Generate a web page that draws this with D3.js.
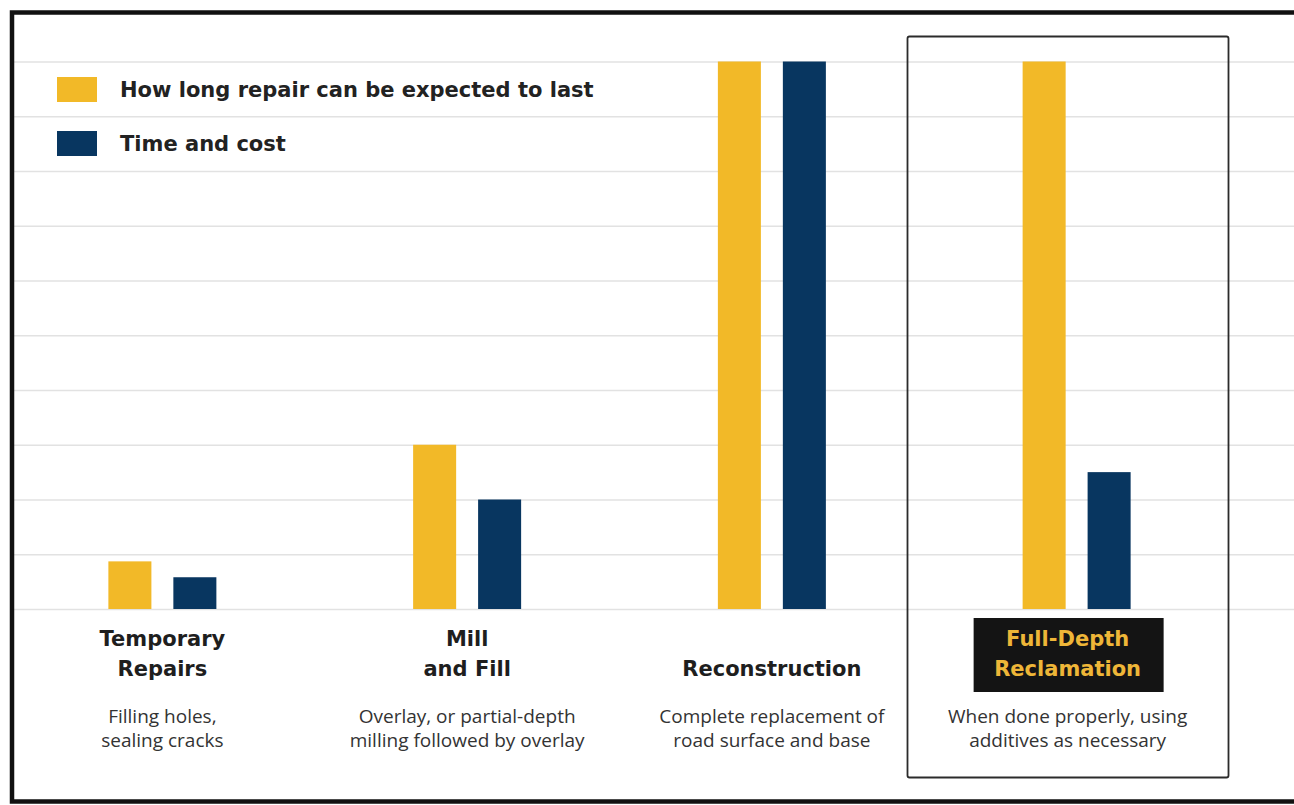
<!DOCTYPE html>
<html>
<head>
<meta charset="utf-8">
<script src="https://cdn.jsdelivr.net/npm/d3@7"></script>
<style>
  body { margin: 0; background: #fff; }
  svg { display: block; }
</style>
</head>
<body>
<div id="chart"></div>
<script>
var categories = ["Temporary Repairs", "Mill and Fill", "Reconstruction", "Full-Depth Reclamation"];
var categoryLines = [["Temporary", "Repairs"], ["Mill", "and Fill"], ["Reconstruction"], ["Full-Depth", "Reclamation"]];
var descriptions = [
  ["Filling holes,", "sealing cracks"],
  ["Overlay, or partial-depth", "milling followed by overlay"],
  ["Complete replacement of", "road surface and base"],
  ["When done properly, using", "additives as necessary"]
];
var seriesNames = ["How long repair can be expected to last", "Time and cost"];
var lastValues = [0.87, 3.0, 10, 10];
var costValues = [0.58, 2.0, 10, 2.5];
var gridTicks = [0, 1, 2, 3, 4, 5, 6, 7, 8, 9, 10];
var highlighted = "Full-Depth Reclamation";

var colors = ["#f2b928", "#083660"];
var width = 1294, height = 805;
var titleFont = "'DejaVu Sans', sans-serif";
var bodyFont = "'Open Sans', sans-serif";

var svg = d3.select("#chart").append("svg")
  .attr("width", width)
  .attr("height", height);

var xScale = d3.scaleBand()
  .domain(categories)
  .range([10, 1229]);

var inner = d3.scaleBand()
  .domain(seriesNames)
  .range([0, 108])
  .paddingInner(0.338);

var yScale = d3.scaleLinear()
  .domain([0, 10])
  .range([609, 61.5]);

// gridlines
var grid = d3.axisLeft(yScale)
  .tickValues(gridTicks)
  .tickSize(-(width - 14))
  .tickFormat("");

svg.append("g")
  .attr("class", "grid")
  .attr("transform", "translate(14,0)")
  .call(grid)
  .call(function(g) { g.select(".domain").remove(); })
  .selectAll("line")
  .attr("stroke", "#e2e2e2")
  .attr("stroke-width", 1.6);

// highlight box
svg.append("rect")
  .attr("x", 907.5)
  .attr("y", 36.5)
  .attr("width", 321)
  .attr("height", 741)
  .attr("rx", 2)
  .attr("fill", "none")
  .attr("stroke", "#2b2b2b")
  .attr("stroke-width", 1.8);

var data = categories.map(function(c, i) {
  return { cat: c, values: [lastValues[i], costValues[i]] };
});

var groups = svg.selectAll(".group")
  .data(data)
  .enter().append("g")
  .attr("class", "group")
  .attr("transform", function(d) {
    return "translate(" + (xScale(d.cat) + xScale.bandwidth() / 2 - 54) + ",0)";
  });

groups.selectAll("rect")
  .data(function(d) { return d.values.map(function(v, i) { return { name: seriesNames[i], value: v, i: i }; }); })
  .enter().append("rect")
  .attr("x", function(d) { return inner(d.name); })
  .attr("y", function(d) { return yScale(d.value); })
  .attr("width", inner.bandwidth())
  .attr("height", function(d) { return yScale(0) - yScale(d.value); })
  .attr("fill", function(d) { return colors[d.i]; });

// category labels
var labels = svg.selectAll(".cat-label")
  .data(categories)
  .enter().append("g")
  .attr("class", "cat-label")
  .attr("transform", function(d) { return "translate(" + (xScale(d) + xScale.bandwidth() / 2) + ",0)"; });

labels.filter(function(d) { return d === highlighted; })
  .append("rect")
  .attr("x", -103)
  .attr("y", 618)
  .attr("width", 190)
  .attr("height", 74)
  .attr("fill", "#141414");

labels.each(function(d, i) {
  var g = d3.select(this);
  var lines = categoryLines[i];
  var startY = lines.length === 1 ? 676 : 646;
  var isHl = d === highlighted;
  lines.forEach(function(t, j) {
    g.append("text")
      .attr("x", isHl ? -9 : 0)
      .attr("y", startY + j * 29.5)
      .attr("text-anchor", "middle")
      .attr("font-family", titleFont)
      .attr("font-weight", 700)
      .attr("font-size", 21)
      .attr("fill", isHl ? "#eeb638" : "#1e1e1e")
      .text(t);
  });
  descriptions[i].forEach(function(t, j) {
    g.append("text")
      .attr("x", isHl ? -9 : 0)
      .attr("y", 723 + j * 24)
      .attr("text-anchor", "middle")
      .attr("font-family", bodyFont)
      .attr("font-size", 19)
      .attr("fill", "#333")
      .text(t);
  });
});

// legend
var legend = svg.selectAll(".legend")
  .data(seriesNames)
  .enter().append("g")
  .attr("class", "legend")
  .attr("transform", function(d, i) { return "translate(57," + (77 + i * 54) + ")"; });

legend.append("rect")
  .attr("width", 40)
  .attr("height", 25)
  .attr("fill", function(d, i) { return colors[i]; });

legend.append("text")
  .attr("x", 63)
  .attr("y", 20)
  .attr("font-family", titleFont)
  .attr("font-weight", 700)
  .attr("font-size", 21)
  .attr("fill", "#222")
  .text(function(d) { return d; });

// outer frame
svg.append("rect")
  .attr("x", 12)
  .attr("y", 12.5)
  .attr("width", width + 20)
  .attr("height", 789)
  .attr("fill", "none")
  .attr("stroke", "#111")
  .attr("stroke-width", 4.5);
</script>
</body>
</html>
